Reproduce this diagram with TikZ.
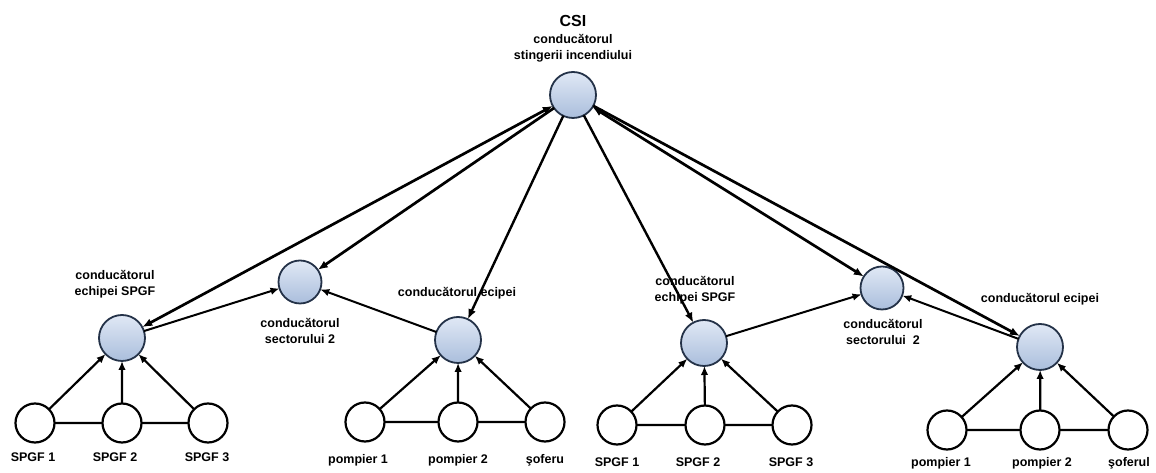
\documentclass[tikz,border=0pt]{standalone}
\usepackage{fontspec}
\setmainfont{Liberation Sans}
\usepackage{tikz,tkz-graph}
\usetikzlibrary{arrows.meta}
\definecolor{paleBlue}{RGB}{224,232,245}
\definecolor{steelBlue}{RGB}{170,190,220}
\definecolor{navyRim}{RGB}{36,50,72}
\tikzstyle{leaderNode}=[shape = circle, minimum size = 46pt, inner sep = 0pt, draw = navyRim, line width = 1.8pt, top color = paleBlue, bottom color = steelBlue]
\tikzstyle{sectorNode}=[shape = circle, minimum size = 43pt, inner sep = 0pt, draw = navyRim, line width = 1.8pt, top color = paleBlue, bottom color = steelBlue]
\tikzstyle{crewNode}=[shape = circle, minimum size = 39pt, inner sep = 0pt, draw, line width = 2.2pt, fill = white]
\begin{document}
\begin{tikzpicture}[scale = 3.5146]
\tikzstyle{VertexStyle} = []
\tikzstyle{EdgeStyle} = []
\tikzstyle{LabelStyle} = [fill = none, inner sep = 0pt]
\tikzstyle{orderLine}=[draw, -{Latex[length = 10pt, width = 8pt]}]
\tikzstyle{bothLine}=[draw, {Latex[length = 10pt, width = 8pt]}-{Latex[length = 10pt, width = 8pt]}]
\tikzstyle{reportLine}=[draw, -{Latex[length = 9pt, width = 7.5pt]}]
\tikzstyle{linkLine}=[draw]
\tikzstyle{roleText}=[font = \bfseries\fontsize{12.5}{16.5}\selectfont, align = center, inner sep = 0pt]
\useasboundingbox (0,0) rectangle (11.56,4.73);
% CSI
\Vertex[style = leaderNode, x = 5.73, y = 3.78, NoLabel]{csi}
\node[roleText, font = \bfseries\fontsize{16}{18}\selectfont] (tcsi) at (5.73,4.52) {CSI};
\node[roleText] (tcsirole) at (5.73,4.25) {conducătorul\\stingerii incendiului};
% leaders and sectors
\Vertex[style = leaderNode, x = 1.22, y = 1.35, NoLabel]{lead1}
\Vertex[style = sectorNode, x = 3.00, y = 1.91, NoLabel]{sect1}
\Vertex[style = leaderNode, x = 4.58, y = 1.33, NoLabel]{lead2}
\Vertex[style = leaderNode, x = 7.04, y = 1.30, NoLabel]{lead3}
\Vertex[style = sectorNode, x = 8.82, y = 1.85, NoLabel]{sect2}
\Vertex[style = leaderNode, x = 10.40, y = 1.26, NoLabel]{lead4}
\node[roleText] (tlead1) at (1.15,1.89) {conducătorul\\echipei SPGF};
\node[roleText] (tsect1) at (3.00,1.42) {conducătorul\\sectorului 2};
\node[roleText] (tlead2) at (4.57,1.80) {conducătorul ecipei};
\node[roleText] (tlead3) at (6.95,1.83) {conducătorul\\echipei SPGF};
\node[roleText] (tsect2) at (8.83,1.41) {conducătorul\\sectorului\ \ 2};
\node[roleText] (tlead4) at (10.40,1.74) {conducătorul ecipei};
% crews
\Vertex[style = crewNode, x = 0.35, y = 0.50, NoLabel]{c11}
\Vertex[style = crewNode, x = 1.22, y = 0.50, NoLabel]{c12}
\Vertex[style = crewNode, x = 2.08, y = 0.50, NoLabel]{c13}
\Vertex[style = crewNode, x = 3.65, y = 0.51, NoLabel]{c21}
\Vertex[style = crewNode, x = 4.58, y = 0.51, NoLabel]{c22}
\Vertex[style = crewNode, x = 5.45, y = 0.51, NoLabel]{c23}
\Vertex[style = crewNode, x = 6.17, y = 0.48, NoLabel]{c31}
\Vertex[style = crewNode, x = 7.05, y = 0.48, NoLabel]{c32}
\Vertex[style = crewNode, x = 7.92, y = 0.48, NoLabel]{c33}
\Vertex[style = crewNode, x = 9.47, y = 0.43, NoLabel]{c41}
\Vertex[style = crewNode, x = 10.40, y = 0.43, NoLabel]{c42}
\Vertex[style = crewNode, x = 11.28, y = 0.43, NoLabel]{c43}
\node[roleText] (t11) at (0.33,0.16) {SPGF 1};
\node[roleText] (t12) at (1.15,0.16) {SPGF 2};
\node[roleText] (t13) at (2.07,0.16) {SPGF 3};
\node[roleText] (t21) at (3.58,0.13) {pompier 1};
\node[roleText] (t22) at (4.58,0.13) {pompier 2};
\node[roleText] (t23) at (5.45,0.13) {şoferu};
\node[roleText] (t31) at (6.17,0.11) {SPGF 1};
\node[roleText] (t32) at (6.98,0.11) {SPGF 2};
\node[roleText] (t33) at (7.91,0.11) {SPGF 3};
\node[roleText] (t41) at (9.41,0.10) {pompier 1};
\node[roleText] (t42) at (10.42,0.10) {pompier 2};
\node[roleText] (t43) at (11.29,0.10) {şoferul};
% command lines
\Edge[lw = 2.7pt, style = bothLine](lead1)(csi)
\Edge[lw = 2.7pt, style = orderLine](csi)(sect1)
\Edge[lw = 2.4pt, style = orderLine](csi)(lead2)
\Edge[lw = 2.4pt, style = orderLine](csi)(lead3)
\Edge[lw = 2.7pt, style = bothLine](csi)(sect2)
\Edge[lw = 2.7pt, style = orderLine](csi)(lead4)
\Edge[lw = 2pt, style = reportLine](lead1)(sect1)
\Edge[lw = 2pt, style = reportLine](lead2)(sect1)
\Edge[lw = 2pt, style = reportLine](lead3)(sect2)
\Edge[lw = 2pt, style = reportLine](lead4)(sect2)
% crew lines
\foreach \g in {1,2,3,4}{
  \Edge[lw = 2.2pt, style = reportLine](c\g1)(lead\g)
  \Edge[lw = 2.2pt, style = reportLine](c\g2)(lead\g)
  \Edge[lw = 2.2pt, style = reportLine](c\g3)(lead\g)
  \Edge[lw = 2.2pt, style = linkLine](c\g1)(c\g2)
  \Edge[lw = 2.2pt, style = linkLine](c\g2)(c\g3)
}
\end{tikzpicture}
\end{document}
